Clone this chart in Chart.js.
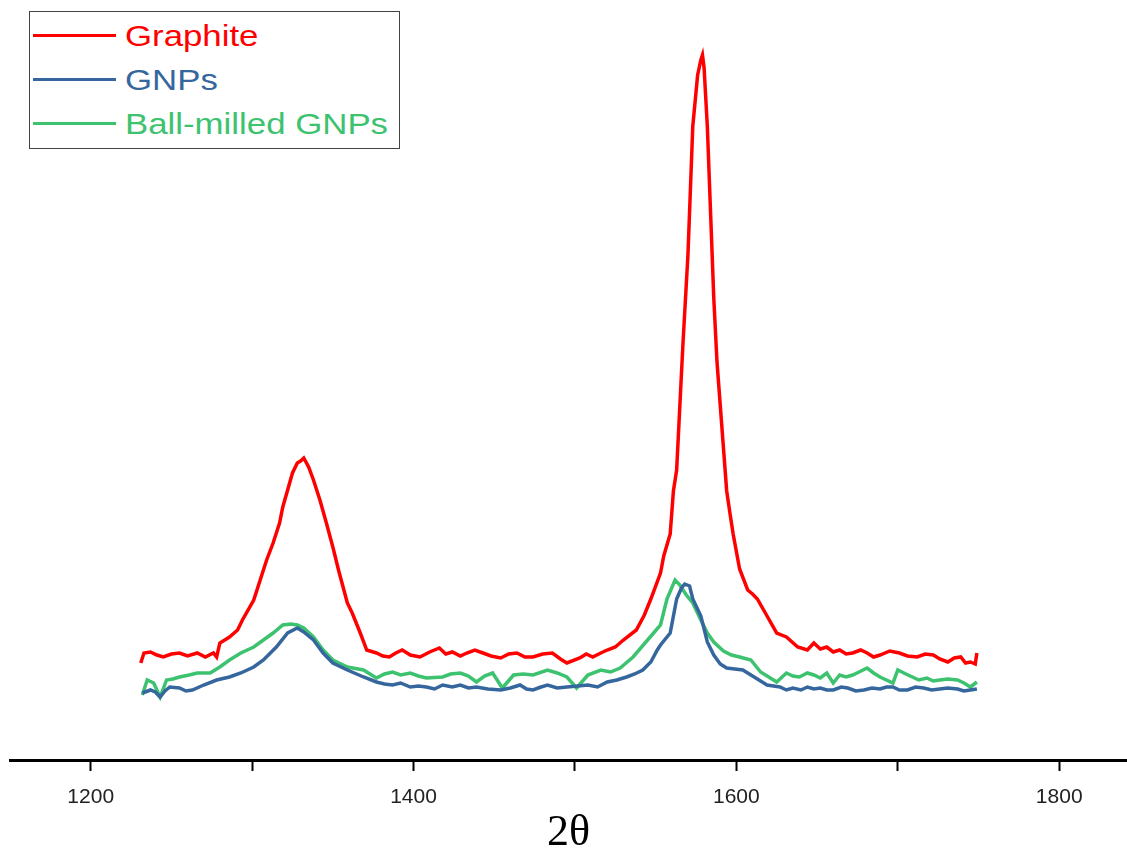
<!DOCTYPE html>
<html>
<head>
<meta charset="utf-8">
<script src="https://cdn.jsdelivr.net/npm/chart.js@4/dist/chart.umd.min.js"></script>
<style>
  body { margin: 0; background: #fff; }
  #wrap { position: relative; width: 1127px; height: 850px; }
  #legend {
    position: absolute; left: 29px; top: 11px; width: 369px; height: 136px;
    border: 1px solid #444; background: #fff;
  }
  .row { position: absolute; left: 0; height: 40px; }
  .row .ln { position: absolute; left: 3px; top: 18px; width: 83px; height: 3px; }
  .row .tx {
    position: absolute; left: 95px; top: 0; white-space: nowrap;
    font: 30px "Liberation Sans", Arial, sans-serif; line-height: 40px;
    transform: scaleX(1.16); transform-origin: left center;
  }
</style>
</head>
<body>
<div id="wrap">
  <canvas id="raman" width="1127" height="850"></canvas>
  <div id="legend">
    <div class="row" style="top:4px"><div class="ln" style="background:#ff0000"></div><div class="tx" style="color:#ff0000">Graphite</div></div>
    <div class="row" style="top:48px"><div class="ln" style="background:#35679e"></div><div class="tx" style="color:#35679e">GNPs</div></div>
    <div class="row" style="top:92px"><div class="ln" style="background:#3dc270"></div><div class="tx" style="color:#3dc270">Ball-milled GNPs</div></div>
  </div>
</div>
<script>
// Raman shift (cm-1) and intensity (a.u.)
const graphiteX = [1231, 1233, 1237, 1241, 1245, 1250, 1255, 1260, 1266, 1271, 1276, 1278, 1280, 1286, 1291, 1294, 1301, 1305, 1309, 1313, 1317, 1319, 1322, 1325, 1328, 1330, 1332, 1335, 1338, 1342, 1346, 1350, 1354, 1359, 1362, 1367, 1371, 1377, 1381, 1385, 1389, 1393, 1398, 1404, 1410, 1416, 1420, 1424, 1429, 1433, 1438, 1443, 1448, 1454, 1459, 1464, 1469, 1474, 1480, 1486, 1491, 1495, 1503, 1507, 1511, 1516, 1520, 1525, 1530, 1538, 1543, 1547, 1553, 1555, 1559, 1561, 1563, 1565, 1567, 1570, 1571, 1573, 1576, 1578, 1579, 1580, 1582, 1584, 1586, 1588, 1590, 1592, 1594, 1596, 1598, 1602, 1607, 1610, 1613, 1619, 1625, 1631, 1638, 1644, 1648, 1652, 1656, 1660, 1664, 1668, 1672, 1677, 1681, 1685, 1689, 1695, 1701, 1706, 1712, 1717, 1722, 1726, 1731, 1735, 1739, 1742, 1745, 1748, 1749];
const graphiteY = [97, 107, 108, 105, 103, 106, 107, 104, 107, 103, 107, 103, 117, 123, 130, 140, 160, 180, 200, 217, 237, 253, 270, 287, 297, 299, 302, 293, 280, 260, 237, 213, 187, 157, 147, 127, 110, 107, 104, 103, 107, 110, 105, 103, 108, 112, 106, 108, 104, 107, 110, 107, 104, 102, 106, 107, 103, 103, 106, 107, 101, 97, 102, 106, 103, 107, 110, 113, 120, 130, 145, 161, 187, 204, 226, 269, 290, 355, 419, 505, 548, 634, 685, 700, 705, 692, 634, 548, 462, 398, 355, 312, 269, 247, 226, 191, 170, 166, 161, 144, 127, 123, 113, 110, 117, 111, 113, 108, 110, 106, 107, 110, 107, 103, 105, 109, 107, 104, 103, 106, 105, 101, 98, 102, 103, 97, 98, 96, 107];

const gnpX = [1232, 1237, 1240, 1243, 1246, 1249, 1255, 1259, 1263, 1270, 1278, 1286, 1293, 1301, 1307, 1315, 1322, 1328, 1332, 1338, 1344, 1350, 1359, 1369, 1377, 1382, 1387, 1392, 1398, 1403, 1408, 1413, 1418, 1424, 1429, 1434, 1439, 1446, 1454, 1460, 1466, 1470, 1474, 1479, 1483, 1489, 1495, 1502, 1508, 1514, 1520, 1526, 1532, 1537, 1542, 1547, 1551, 1553, 1559, 1563, 1566, 1568, 1571, 1573, 1578, 1582, 1586, 1590, 1594, 1599, 1604, 1610, 1614, 1619, 1623, 1627, 1631, 1635, 1640, 1644, 1648, 1652, 1656, 1660, 1665, 1669, 1674, 1679, 1684, 1689, 1693, 1697, 1701, 1706, 1711, 1716, 1721, 1726, 1731, 1737, 1741, 1745, 1749];
const gnpY = [67, 70, 68, 63, 69, 73, 72, 69, 70, 75, 80, 83, 87, 93, 100, 113, 127, 132, 128, 120, 107, 97, 90, 83, 78, 76, 75, 77, 73, 74, 73, 71, 75, 73, 75, 72, 73, 71, 70, 72, 75, 71, 70, 73, 75, 72, 73, 74, 75, 73, 78, 80, 83, 86, 90, 98, 110, 115, 127, 161, 172, 176, 174, 161, 144, 118, 105, 96, 92, 91, 90, 84, 80, 75, 74, 73, 70, 72, 70, 73, 71, 72, 70, 70, 73, 72, 69, 70, 72, 71, 73, 73, 70, 70, 73, 72, 70, 71, 72, 71, 69, 70, 71];

const ballX = [1232, 1235, 1239, 1243, 1247, 1251, 1255, 1261, 1266, 1274, 1280, 1286, 1293, 1301, 1307, 1313, 1319, 1324, 1328, 1332, 1338, 1344, 1350, 1359, 1369, 1377, 1382, 1387, 1392, 1398, 1403, 1408, 1418, 1423, 1429, 1434, 1439, 1444, 1449, 1455, 1462, 1468, 1474, 1483, 1489, 1495, 1501, 1508, 1516, 1522, 1528, 1536, 1545, 1553, 1557, 1562, 1565, 1569, 1573, 1578, 1582, 1586, 1592, 1597, 1602, 1609, 1615, 1621, 1625, 1631, 1635, 1639, 1644, 1648, 1652, 1656, 1660, 1664, 1668, 1672, 1676, 1681, 1685, 1689, 1697, 1700, 1705, 1709, 1713, 1718, 1722, 1726, 1731, 1737, 1741, 1745, 1749];
const ballY = [65, 80, 77, 63, 80, 81, 83, 85, 87, 87, 93, 100, 107, 113, 120, 127, 135, 136, 135, 132, 123, 110, 100, 93, 90, 82, 86, 88, 85, 87, 84, 82, 83, 86, 87, 84, 78, 84, 87, 72, 85, 86, 85, 90, 87, 83, 72, 85, 90, 88, 92, 103, 120, 135, 161, 180, 175, 165, 157, 140, 127, 118, 109, 105, 103, 100, 88, 82, 78, 87, 84, 83, 87, 85, 82, 87, 77, 85, 83, 85, 88, 92, 87, 83, 77, 90, 86, 83, 80, 82, 79, 80, 81, 80, 77, 73, 78];

const xTickValues = [1200, 1300, 1400, 1500, 1600, 1700, 1800];
const xTickLabels = [1200, 1400, 1600, 1800];

function toPoints(xs, ys) {
  return xs.map((x, i) => ({ x: x, y: ys[i] }));
}

new Chart(document.getElementById('raman'), {
  type: 'line',
  data: {
    datasets: [
      { label: 'Graphite', data: toPoints(graphiteX, graphiteY), borderColor: '#ff0000' },
      { label: 'GNPs', data: toPoints(gnpX, gnpY), borderColor: '#35679e' },
      { label: 'Ball-milled GNPs', data: toPoints(ballX, ballY), borderColor: '#3dc270' }
    ]
  },
  options: {
    responsive: false,
    animation: false,
    devicePixelRatio: 1,
    layout: { padding: { left: 10, right: 0, top: 0, bottom: 0 } },
    elements: {
      line: { borderWidth: 3.5, tension: 0 },
      point: { radius: 0 }
    },
    plugins: {
      legend: { display: false },
      tooltip: { enabled: false }
    },
    scales: {
      x: {
        type: 'linear',
        min: 1150,
        max: 1842,
        afterBuildTicks: function (s) { s.ticks = xTickValues.map(v => ({ value: v })); },
        afterFit: function (s) { s.height = 90; },
        border: { display: true, color: '#000', width: 3 },
        grid: { drawOnChartArea: false, drawTicks: true, tickLength: 11, tickColor: '#000', tickWidth: 2 },
        ticks: {
          padding: 14,
          color: '#222',
          maxRotation: 0,
          autoSkip: false,
          font: { family: 'Liberation Sans', size: 21 },
          callback: function (v) { return xTickLabels.includes(v) ? String(v) : ''; }
        },
        title: {
          display: true,
          text: '2θ',
          color: '#000',
          font: { family: 'Liberation Serif', size: 44 },
          padding: { top: 0, bottom: -10 }
        }
      },
      y: {
        display: false,
        min: 0,
        max: 760
      }
    }
  }
});
</script>
</body>
</html>
